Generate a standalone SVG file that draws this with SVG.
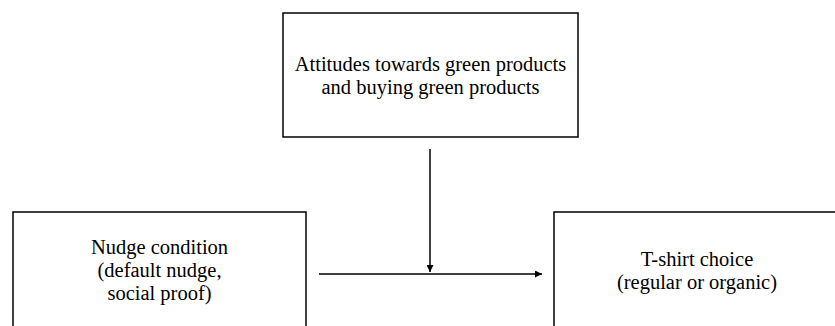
<svg xmlns="http://www.w3.org/2000/svg" width="835" height="326" viewBox="0 0 835 326">
<style>
.box{fill:#fff;stroke:#000;stroke-width:1.5}
.lbl{font-family:"Liberation Serif","Times New Roman",serif;font-size:20.5px;fill:#000;text-anchor:middle}
.edge{stroke:#000;stroke-width:1.5;fill:none}
</style>
<defs>
<marker id="arr" markerWidth="7" markerHeight="7" refX="7" refY="3.5" orient="auto" markerUnits="userSpaceOnUse">
<path d="M0,0 L7,3.5 L0,7 Z" fill="#000"/>
</marker>
</defs>
<rect width="835" height="326" fill="#fff"/>
<g id="attitudes">
<rect class="box" x="283" y="13" width="295" height="124"/>
<text class="lbl" x="430.5" y="71">Attitudes towards green products</text>
<text class="lbl" x="430.5" y="94">and buying green products</text>
</g>
<g id="nudge">
<rect class="box" x="13" y="212" width="293" height="130"/>
<text class="lbl" x="159.5" y="254">Nudge condition</text>
<text class="lbl" x="159.5" y="277">(default nudge,</text>
<text class="lbl" x="159.5" y="300">social proof)</text>
</g>
<g id="tshirt">
<rect class="box" x="554" y="212" width="300" height="130"/>
<text class="lbl" x="697" y="266">T-shirt choice</text>
<text class="lbl" x="697" y="289">(regular or organic)</text>
</g>
<g id="connectors">
<line class="edge" x1="319" y1="274" x2="542" y2="274" marker-end="url(#arr)"/>
<line class="edge" x1="430" y1="149" x2="430" y2="272" marker-end="url(#arr)"/>
</g>
</svg>
